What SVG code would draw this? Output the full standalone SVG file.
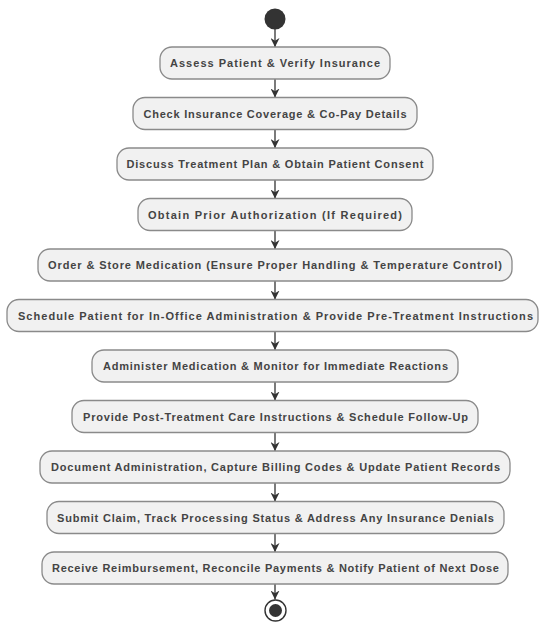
<svg xmlns="http://www.w3.org/2000/svg" width="539" height="625" viewBox="0 0 539 625">
<defs>
<style>
.n rect{fill:#f1f1f1;stroke:#8a8a8a;stroke-width:1.3}
.n text{font-family:"Liberation Sans",Arial,sans-serif;font-size:11px;font-weight:bold;fill:#444;text-anchor:middle}
.c line{stroke:#333;stroke-width:1.3}
</style>
<marker id="ah" viewBox="0 0 10 10" refX="10" refY="5" markerWidth="9" markerHeight="9" markerUnits="userSpaceOnUse" orient="auto">
<path d="M0,0 L10,5 L0,10 L3,5 Z" fill="#333"/>
</marker>
</defs>
<rect width="539" height="625" fill="#fff"/>
<g id="start"><circle cx="275" cy="19" r="10.5" fill="#333"/></g>
<g class="c" id="connectors">
<line x1="275" y1="29" x2="275" y2="47" marker-end="url(#ah)"/>
<line x1="275" y1="79" x2="275" y2="97.5" marker-end="url(#ah)"/>
<line x1="275" y1="129.5" x2="275" y2="148" marker-end="url(#ah)"/>
<line x1="275" y1="180" x2="275" y2="198.5" marker-end="url(#ah)"/>
<line x1="275" y1="230.5" x2="275" y2="249" marker-end="url(#ah)"/>
<line x1="275" y1="281" x2="275" y2="299.5" marker-end="url(#ah)"/>
<line x1="275" y1="331.5" x2="275" y2="350" marker-end="url(#ah)"/>
<line x1="275" y1="382" x2="275" y2="400.5" marker-end="url(#ah)"/>
<line x1="275" y1="432.5" x2="275" y2="451" marker-end="url(#ah)"/>
<line x1="275" y1="483" x2="275" y2="501.5" marker-end="url(#ah)"/>
<line x1="275" y1="533.5" x2="275" y2="552" marker-end="url(#ah)"/>
<line x1="275" y1="584" x2="275" y2="599.5" marker-end="url(#ah)"/>
</g>
<g class="n" id="n1"><rect x="160" y="47" width="230" height="32" rx="12"/><text x="275" y="67" textLength="210" lengthAdjust="spacing">Assess Patient &amp; Verify Insurance</text></g>
<g class="n" id="n2"><rect x="133" y="97.5" width="284" height="32" rx="12"/><text x="275" y="117.5" textLength="263" lengthAdjust="spacing">Check Insurance Coverage &amp; Co-Pay Details</text></g>
<g class="n" id="n3"><rect x="117" y="148" width="316" height="32" rx="12"/><text x="275" y="168" textLength="297" lengthAdjust="spacing">Discuss Treatment Plan &amp; Obtain Patient Consent</text></g>
<g class="n" id="n4"><rect x="138" y="198.5" width="274" height="32" rx="12"/><text x="275" y="218.5" textLength="254" lengthAdjust="spacing">Obtain Prior Authorization (If Required)</text></g>
<g class="n" id="n5"><rect x="38" y="249" width="474" height="32" rx="12"/><text x="275" y="269" textLength="454" lengthAdjust="spacing">Order &amp; Store Medication (Ensure Proper Handling &amp; Temperature Control)</text></g>
<g class="n" id="n6"><rect x="7" y="299.5" width="531" height="32" rx="12"/><text x="275.5" y="319.5" textLength="515" lengthAdjust="spacing">Schedule Patient for In-Office Administration &amp; Provide Pre-Treatment Instructions</text></g>
<g class="n" id="n7"><rect x="92" y="350" width="366" height="32" rx="12"/><text x="275.5" y="370" textLength="345" lengthAdjust="spacing">Administer Medication &amp; Monitor for Immediate Reactions</text></g>
<g class="n" id="n8"><rect x="72" y="400.5" width="406" height="32" rx="12"/><text x="275.5" y="420.5" textLength="385" lengthAdjust="spacing">Provide Post-Treatment Care Instructions &amp; Schedule Follow-Up</text></g>
<g class="n" id="n9"><rect x="40" y="451" width="470" height="32" rx="12"/><text x="275.5" y="471" textLength="449" lengthAdjust="spacing">Document Administration, Capture Billing Codes &amp; Update Patient Records</text></g>
<g class="n" id="n10"><rect x="47" y="501.5" width="457" height="32" rx="12"/><text x="275.5" y="521.5" textLength="437" lengthAdjust="spacing">Submit Claim, Track Processing Status &amp; Address Any Insurance Denials</text></g>
<g class="n" id="n11"><rect x="42" y="552" width="466" height="32" rx="12"/><text x="275.5" y="572" textLength="447" lengthAdjust="spacing">Receive Reimbursement, Reconcile Payments &amp; Notify Patient of Next Dose</text></g>
<g id="end"><circle cx="275.5" cy="610.5" r="10.5" fill="#fff" stroke="#333" stroke-width="1.4"/><circle cx="275.5" cy="610.5" r="6.5" fill="#333"/></g>
</svg>
